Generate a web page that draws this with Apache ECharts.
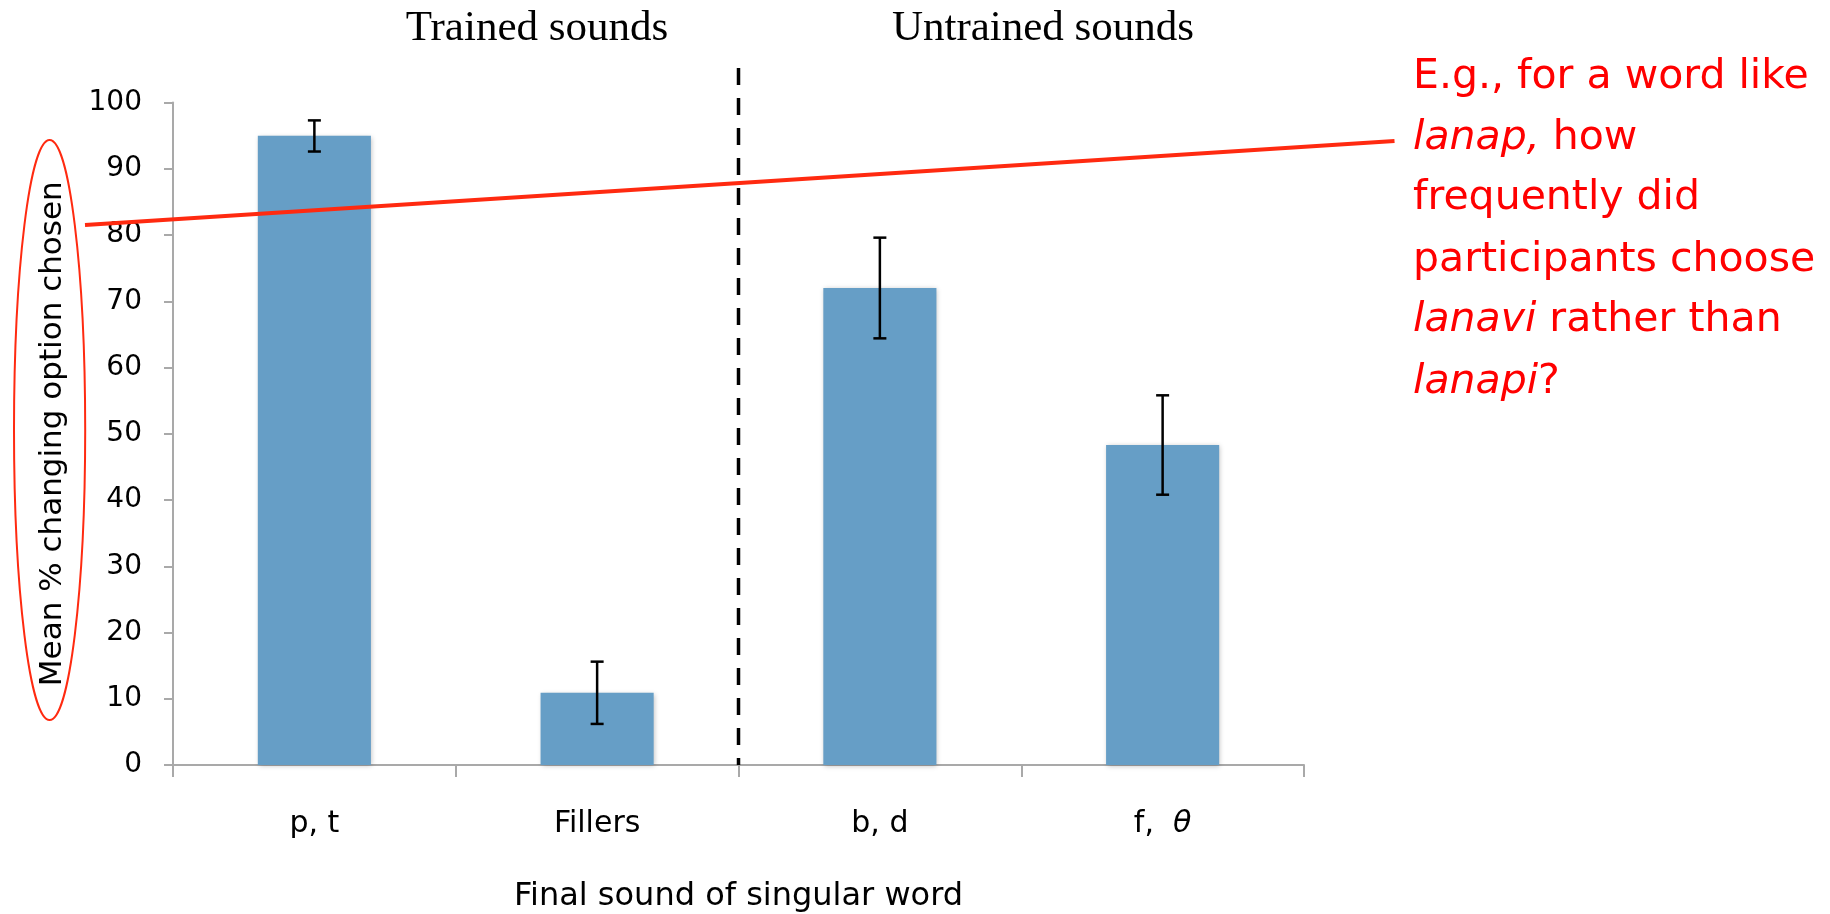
<!DOCTYPE html>
<html>
<head>
<meta charset="utf-8">
<script src="https://cdn.jsdelivr.net/npm/echarts@6/dist/echarts.min.js"></script>
<style>
html,body{margin:0;padding:0;background:#fff;}
#chart{width:1830px;height:914px;}
</style>
</head>
<body>
<div id="chart"></div>
<script>
const categories = ['p, t', 'Fillers', 'b, d', 'f, θ'];
const meanValues = [95.0, 10.9, 72.0, 48.3];
const errorLow = [92.6, 6.2, 64.4, 40.8];
const errorHigh = [97.3, 15.6, 79.6, 55.8];
const yTicks = [0, 10, 20, 30, 40, 50, 60, 70, 80, 90, 100];
const groupTitles = ['Trained sounds', 'Untrained sounds'];
const noteLines = [
  [['', 'E.g., for a word like']],
  [['i', 'lanap,'], ['', ' how']],
  [['', 'frequently did']],
  [['', 'participants choose']],
  [['i', 'lanavi'], ['', ' rather than']],
  [['i', 'lanapi'], ['', '?']]
];

const SANS = '"DejaVu Sans", sans-serif';
const chart = echarts.init(document.getElementById('chart'));

const errData = categories.map((c, i) => [i, errorLow[i], errorHigh[i]]);

chart.setOption({
  animation: false,
  backgroundColor: '#ffffff',
  grid: { left: 173, right: 526, top: 102.5, bottom: 149, outerBoundsMode: 'none' },
  xAxis: {
    type: 'category',
    data: categories,
    boundaryGap: true,
    axisLine: { show: true, lineStyle: { color: '#a9a9a9', width: 2 } },
    axisTick: { show: true, length: 12, lineStyle: { color: '#a9a9a9', width: 2 } },
    axisLabel: {
      color: '#000', fontFamily: SANS, fontSize: 30, margin: 44,
      formatter: v => v.replace('θ', ' {i|θ}'),
      rich: { i: { fontStyle: 'italic', fontFamily: SANS, fontSize: 30, color: '#000' } }
    },
    name: 'Final sound of singular word',
    nameLocation: 'middle',
    nameGap: 116,
    nameTextStyle: { color: '#000', fontFamily: SANS, fontSize: 32 }
  },
  yAxis: {
    type: 'value',
    min: yTicks[0],
    max: yTicks[yTicks.length - 1],
    interval: 10,
    axisLine: { show: true, lineStyle: { color: '#a9a9a9', width: 2 } },
    axisTick: { show: true, inside: false, length: 9, lineStyle: { color: '#a9a9a9', width: 2 } },
    splitLine: { show: false },
    axisLabel: { color: '#000', fontFamily: SANS, fontSize: 28, margin: 31 },
    name: 'Mean % changing option chosen',
    nameLocation: 'middle',
    nameGap: 105,
    nameRotate: 90,
    nameTextStyle: { color: '#000', fontFamily: SANS, fontSize: 31 }
  },
  series: [
    {
      type: 'bar',
      data: meanValues,
      barWidth: '40%',
      itemStyle: {
        color: '#669ec6',
        shadowColor: 'rgba(0,0,0,0.25)',
        shadowBlur: 5,
        shadowOffsetX: 1,
        shadowOffsetY: 1
      },
      z: 2
    },
    {
      type: 'custom',
      data: errData,
      z: 5,
      renderItem: function (params, api) {
        const x = api.value(0);
        const lo = api.coord([x, api.value(1)]);
        const hi = api.coord([x, api.value(2)]);
        const cap = 6.5;
        const style = { stroke: '#000', lineWidth: 2.5 };
        return {
          type: 'group',
          children: [
            { type: 'line', shape: { x1: lo[0], y1: lo[1], x2: hi[0], y2: hi[1] }, style },
            { type: 'line', shape: { x1: lo[0] - cap, y1: lo[1], x2: lo[0] + cap, y2: lo[1] }, style },
            { type: 'line', shape: { x1: hi[0] - cap, y1: hi[1], x2: hi[0] + cap, y2: hi[1] }, style }
          ]
        };
      }
    }
  ]
});

// Divider between trained and untrained categories, computed from the axes
const c1 = chart.convertToPixel({ gridIndex: 0 }, [1, 0]);
const c2 = chart.convertToPixel({ gridIndex: 0 }, [2, 0]);
const divX = (c1[0] + c2[0]) / 2;
const divBottom = c1[1];
const divTop = chart.convertToPixel({ gridIndex: 0 }, [1, 105.2])[1];

const graphics = [
  {
    type: 'line', z: 10,
    shape: { x1: divX, y1: divTop, x2: divX, y2: divBottom },
    style: { stroke: '#000', lineWidth: 3.5, lineDash: [17, 13] }
  },
  {
    type: 'text', z: 10, x: 537, y: 29,
    style: { text: groupTitles[0], fontFamily: '"Liberation Serif", serif', fontSize: 43, fill: '#000', align: 'center', verticalAlign: 'middle' }
  },
  {
    type: 'text', z: 10, x: 1043, y: 29,
    style: { text: groupTitles[1], fontFamily: '"Liberation Serif", serif', fontSize: 43, fill: '#000', align: 'center', verticalAlign: 'middle' }
  },
  {
    type: 'ellipse', z: 20,
    shape: { cx: 49.6, cy: 430, rx: 35.6, ry: 290 },
    style: { fill: 'none', stroke: '#ff2a10', lineWidth: 2 }
  },
  {
    type: 'line', z: 20,
    shape: { x1: 85, y1: 225, x2: 1394.5, y2: 141 },
    style: { stroke: '#ff2a10', lineWidth: 4 }
  }
];

const lineY = [77, 138, 198, 260, 320, 382];
noteLines.forEach((parts, k) => {
  const txt = parts.map(p => p[0] ? '{' + p[0] + '|' + p[1] + '}' : '{n|' + p[1] + '}').join('');
  graphics.push({
    type: 'text', z: 20, x: 1413, y: lineY[k],
    style: {
      text: txt,
      align: 'left', verticalAlign: 'middle',
      fontFamily: SANS, fontSize: 41, fill: '#ff0000',
      rich: {
        n: { fontFamily: SANS, fontSize: 41, fill: '#ff0000', color: '#ff0000' },
        i: { fontFamily: SANS, fontSize: 41, fontStyle: 'italic', fill: '#ff0000', color: '#ff0000' }
      }
    }
  });
});

chart.setOption({ graphic: graphics });
</script>
</body>
</html>
